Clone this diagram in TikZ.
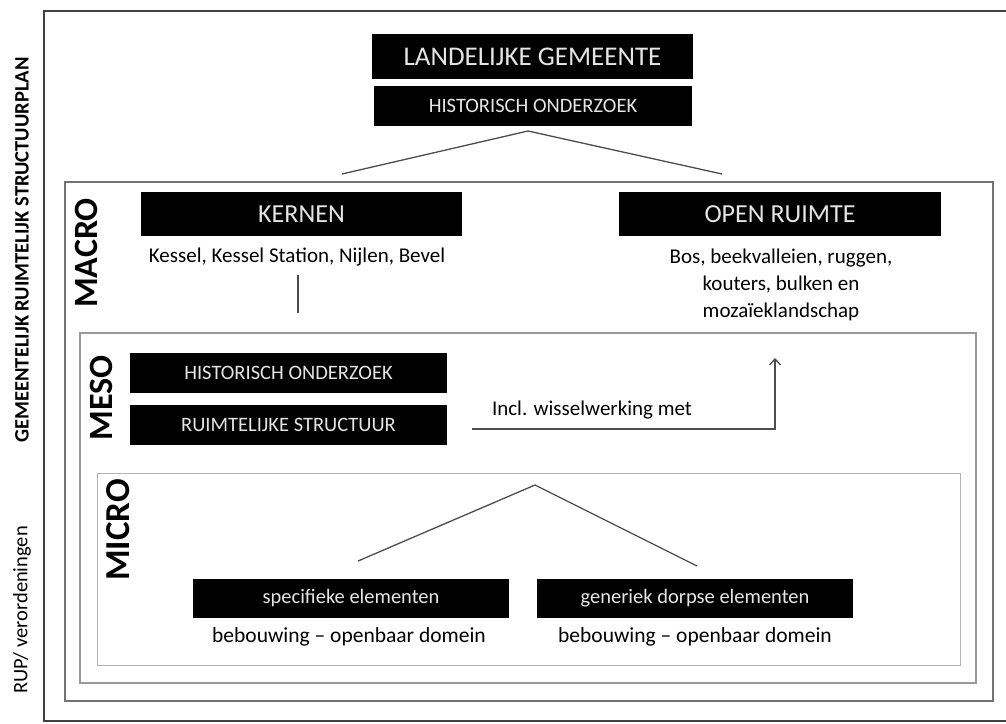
\documentclass[tikz,border=0pt]{standalone}
\usepackage{fontspec}
\setmainfont{Carlito}
\usepackage{tikz}
\usepackage{xcolor}
\usetikzlibrary{arrows.meta}

\begin{document}
\begin{tikzpicture}[x=1pt, y=-1pt,
	blackbox/.style={fill=black, text=white!90!black, inner sep=0pt},
	frame/.style={draw=gray, line width=1.4pt},
	level/.style={rotate=90, font=\bfseries\fontsize{34}{34}\selectfont},
	side/.style={rotate=90, font=\bfseries\fontsize{20.5}{20.5}\selectfont},
	desc/.style={font=\fontsize{21}{21}\selectfont, align=center},
	link/.style={draw=black!70, line width=1.3pt}]
	\useasboundingbox (0,0) rectangle (1006,723);

	\draw[line width=2.2pt, draw=black!75] (44,11) rectangle (1012,721);
	\draw[frame, draw=black!55] (65,182) rectangle (993,701);
	\draw[frame, draw=black!40, line width=1.2pt] (80,333) rectangle (976,683);
	\draw[frame, draw=black!30, line width=1pt] (97,473) rectangle (960,665);

	\node[side] (gsp) at (22,250) {GEMEENTELIJK RUIMTELIJK STRUCTUURPLAN};
	\node[side, font=\fontsize{20.5}{20.5}\selectfont] (rup) at (22,610) {RUP/ verordeningen};

	\node[level] (macro) at (86,253) {MACRO};
	\node[level] (meso) at (101,398) {MESO};
	\node[level, font=\bfseries\fontsize{35}{35}\selectfont] (micro) at (118,530) {MICRO};

	\node[blackbox, minimum width=321pt, minimum height=45pt, font=\fontsize{27}{27}\selectfont] (landelijk) at (532.5,56.5) {LANDELIJKE GEMEENTE};
	\node[blackbox, minimum width=318pt, minimum height=40pt, font=\fontsize{20.5}{20.5}\selectfont] (histtop) at (533,106) {HISTORISCH ONDERZOEK};

	\node[blackbox, minimum width=321pt, minimum height=44pt, font=\fontsize{26}{26}\selectfont] (kernen) at (301.5,214) {KERNEN};
	\node[blackbox, minimum width=322pt, minimum height=44pt, font=\fontsize{26}{26}\selectfont] (open) at (780,214) {OPEN RUIMTE};
	\node[desc] (kernentxt) at (297,257) {Kessel, Kessel Station, Nijlen, Bevel};
	\node[desc, font=\fontsize{21}{27}\selectfont] (opentxt) at (781,285) {Bos, beekvalleien, ruggen,\\ kouters, bulken en\\ mozaïeklandschap};

	\node[blackbox, minimum width=317pt, minimum height=40pt, font=\fontsize{20.5}{20.5}\selectfont] (mesohist) at (288.5,373) {HISTORISCH ONDERZOEK};
	\node[blackbox, minimum width=317pt, minimum height=40pt, font=\fontsize{20.5}{20.5}\selectfont] (mesostruct) at (288.5,425) {RUIMTELIJKE STRUCTUUR};
	\node[desc] (wissel) at (592,410) {Incl. wisselwerking met};

	\node[blackbox, minimum width=316pt, minimum height=39pt, font=\fontsize{20.5}{20.5}\selectfont] (specifiek) at (351,598.5) {specifieke elementen};
	\node[blackbox, minimum width=316pt, minimum height=39pt, font=\fontsize{20.5}{20.5}\selectfont] (generiek) at (695,598.5) {generiek dorpse elementen};
	\node[desc, font=\fontsize{21.5}{21.5}\selectfont] (spectxt) at (349,637) {bebouwing -- openbaar domein};
	\node[desc, font=\fontsize{21.5}{21.5}\selectfont] (genertxt) at (695,637) {bebouwing -- openbaar domein};

	\coordinate (toptip) at (528,131);
	\coordinate (topleft) at (342,174);
	\coordinate (topright) at (722,174);
	\coordinate (kernenlow) at (298,275);
	\coordinate (kernenend) at (298,313);
	\coordinate (wstart) at (472,429);
	\coordinate (wend) at (775,358);
	\coordinate (microtip) at (535,485);
	\coordinate (microleft) at (358,561);
	\coordinate (microright) at (697,566);

	\draw[link] (topleft) -- (toptip) -- (topright);
	\draw[link] (kernenlow) -- (kernenend);
	\draw[link, -{Straight Barb[length=6pt, width=11pt]}] (wstart) -| (wend);
	\draw[link] (microleft) -- (microtip) -- (microright);
\end{tikzpicture}
\end{document}
